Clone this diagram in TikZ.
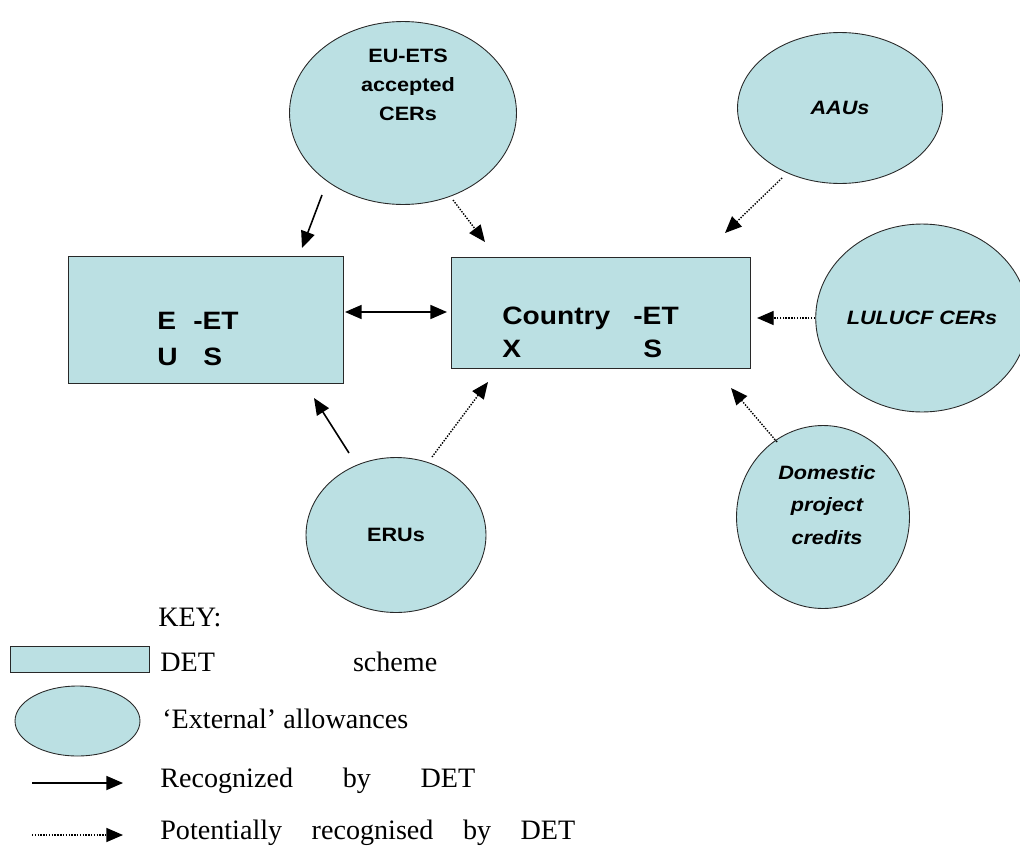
\documentclass[tikz,border=0pt]{standalone}
\usepackage{fontspec}
\setmainfont{Liberation Serif}
\newfontfamily\diagfont[FakeStretch=1.12]{Liberation Sans}
\usepackage{xcolor}
\usetikzlibrary{shapes.geometric, arrows.meta, positioning}
\definecolor{detcyan}{RGB}{187, 224, 227}
\definecolor{detedge}{RGB}{40, 40, 40}

\begin{document}
\begin{tikzpicture}[
    x=0.02cm, y=-0.02cm,
    schemebox/.style={
        rectangle,
        draw=detedge,
        fill=detcyan,
        line width=0.6pt,
        inner sep=0pt,
        anchor=north west
    },
    allowance/.style={
        ellipse,
        draw=detedge,
        fill=detcyan,
        line width=0.5pt,
        inner sep=0pt,
        align=center,
        font=\diagfont\bfseries\fontsize{11}{16.5}\selectfont
    },
    allowtext/.style={
        inner sep=0pt,
        align=center,
        font=\diagfont\bfseries\fontsize{11}{16.5}\selectfont
    },
    schemelabel/.style={
        anchor=base west,
        inner sep=0pt,
        font=\diagfont\bfseries\fontsize{14.3}{16}\selectfont
    },
    keytext/.style={
        anchor=base west,
        inner sep=0pt,
        font=\fontsize{16}{18}\selectfont
    },
    recog/.style={
        -{Triangle[length=9.5pt,width=8pt]},
        line width=0.9pt
    },
    potential/.style={
        -{Triangle[length=9.5pt,width=8pt]},
        line width=0.8pt,
        dash pattern=on 0.8pt off 0.8pt
    }
]

% Page frame
\useasboundingbox (0,0) rectangle (1020,845);

% Trading schemes
\node[schemebox, minimum width=5.5cm, minimum height=2.54cm] (eu) at (68,256) {};
\node[schemebox, minimum width=5.98cm, minimum height=2.22cm] (country) at (451,257) {};

\node[schemelabel] (euE) at (157,329) {E};
\node[schemelabel] (euET) at (193,329) {-ET};
\node[schemelabel] (euU) at (157,365) {U};
\node[schemelabel] (euS) at (203,365) {S};

\node[schemelabel] (ctyname) at (502,324) {Country};
\node[schemelabel] (ctyET) at (633,324) {-ET};
\node[schemelabel] (ctyX) at (502,357) {X};
\node[schemelabel] (ctyS) at (643,357) {S};

% External allowances
\node[allowance, minimum width=4.54cm, minimum height=3.66cm] (cers) at (403,113) {};
\node[allowtext] (cerstext) at (408,85) {EU-ETS\\accepted\\CERs};

\node[allowance, minimum width=4.1cm, minimum height=3.02cm, font=\diagfont\bfseries\itshape\fontsize{11}{16.5}\selectfont] (aaus) at (840,108) {AAUs};

\node[allowance, minimum width=3.92cm, minimum height=3.76cm, font=\diagfont\bfseries\itshape\fontsize{11}{16.5}\selectfont] (lulucf) at (922,318) {LULUCF CERs};

\node[allowance, minimum width=3.6cm, minimum height=3.1cm] (erus) at (396,535) {ERUs};

\node[allowance, minimum width=3.46cm, minimum height=3.66cm] (domestic) at (823,517) {};
\node[allowtext, font=\diagfont\bfseries\itshape\fontsize{11}{18.7}\selectfont] (domtext) at (827,505) {Domestic\\project\\credits};

% Connector ends
\coordinate (cersA) at (322,195);
\coordinate (euA) at (302,248);
\coordinate (cersB) at (453,200);
\coordinate (ctyA) at (485,242);
\coordinate (aausA) at (782,178);
\coordinate (ctyB) at (725,233);
\coordinate (lulucfA) at (815,318);
\coordinate (ctyC) at (757,318);
\coordinate (domA) at (777,442);
\coordinate (ctyD) at (731,388);
\coordinate (erusA) at (349,453);
\coordinate (euB) at (314,398);
\coordinate (erusB) at (432,457);
\coordinate (ctyE) at (488,382);
\coordinate (euC) at (345,312);
\coordinate (ctyF) at (447,312);

% Arrows
\draw[recog] (cersA) -- (euA);
\draw[potential] (cersB) -- (ctyA);
\draw[potential] (aausA) -- (ctyB);
\draw[potential] (lulucfA) -- (ctyC);
\draw[potential] (domA) -- (ctyD);
\draw[recog] (erusA) -- (euB);
\draw[potential] (erusB) -- (ctyE);
\draw[recog, {Triangle[length=9.5pt,width=8pt]}-{Triangle[length=9.5pt,width=8pt]}] (euC) -- (ctyF);

% Key
\node[keytext] (keyhead) at (158,626) {KEY:};

\node[schemebox, minimum width=2.78cm, minimum height=0.52cm] (keybox) at (10,646) {};
\node[keytext] (keyboxtext) at (160,671) {\makebox[5.54cm][s]{DET scheme}};

\node[allowance, minimum width=2.5cm, minimum height=1.4cm] (keyellipse) at (77.5,721) {};
\node[keytext] (keyellipsetext) at (162,728) {`External' allowances};

\coordinate (recogA) at (32,783);
\coordinate (recogB) at (123,783);
\draw[recog] (recogA) -- (recogB);
\node[keytext] (recogtext) at (160,787) {\makebox[6.3cm][s]{Recognized by DET}};

\coordinate (potA) at (32,835);
\coordinate (potB) at (123,835);
\draw[potential] (potA) -- (potB);
\node[keytext] (pottext) at (160,839) {\makebox[8.3cm][s]{Potentially recognised by DET}};

\end{tikzpicture}
\end{document}
